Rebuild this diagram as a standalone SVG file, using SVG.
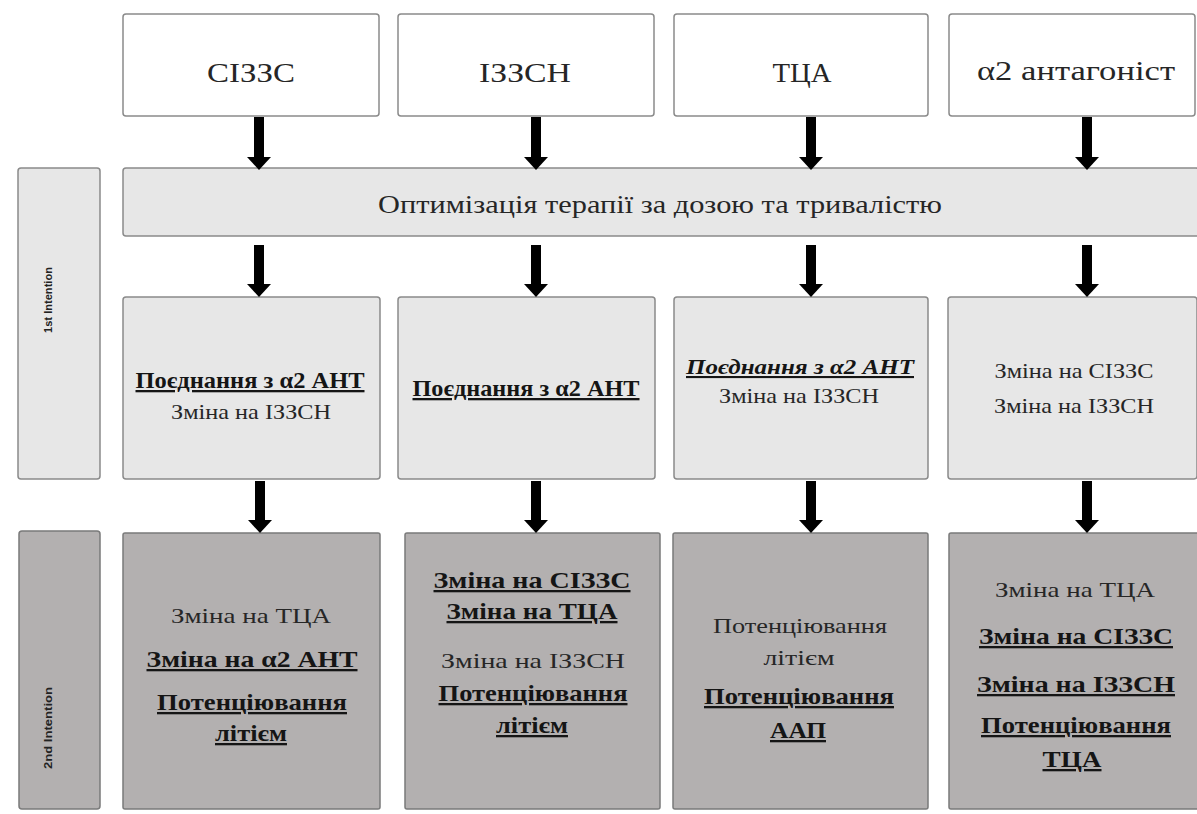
<svg xmlns="http://www.w3.org/2000/svg" width="1197" height="814" viewBox="0 0 1197 814">
<defs>
<style>
.top{fill:#ffffff;stroke:#8a8a8a;stroke-width:1.5}
.lt{fill:#e7e7e7;stroke:#8a8a8a;stroke-width:1.5}
.dk{fill:#b3b0b0;stroke:#7a7a7a;stroke-width:1.5}
text{font-family:"Liberation Serif","Times New Roman",serif;text-anchor:middle;fill:#262626}
.t1{font-size:28px}
.t2{font-size:26px}
.t3{font-size:21px}
.b{font-weight:bold;font-size:23px;text-decoration:underline;fill:#151515}
.bi{font-weight:bold;font-style:italic;text-decoration:underline;fill:#151515}
.side{font-family:"Liberation Sans",Arial,sans-serif;font-size:11px;font-weight:bold;fill:#222}
.arr{stroke:#000;stroke-width:10;fill:none}
</style>
<marker id="ah" viewBox="0 0 13 24" refX="0" refY="12" markerWidth="13" markerHeight="24" markerUnits="userSpaceOnUse" orient="auto">
<path d="M0,0 L13,12 L0,24 z" fill="#000"/>
</marker>
</defs>
<rect width="1197" height="814" fill="#ffffff"/>

<g id="side1">
<rect class="lt" x="18" y="168" width="82" height="311" rx="3"/>
<text class="side" transform="translate(52,300) rotate(-90)" textLength="66" lengthAdjust="spacingAndGlyphs">1st Intention</text>
</g>
<g id="side2">
<rect class="dk" x="19" y="531" width="81" height="278" rx="3"/>
<text class="side" transform="translate(52,728) rotate(-90)" textLength="82" lengthAdjust="spacingAndGlyphs">2nd Intention</text>
</g>

<g id="top1"><rect class="top" x="123" y="14" width="256" height="102" rx="3"/><text class="t1" x="251" y="82" textLength="88" lengthAdjust="spacingAndGlyphs">СІЗЗС</text></g>
<g id="top2"><rect class="top" x="398" y="14" width="256" height="102" rx="3"/><text class="t1" x="525" y="82" textLength="92" lengthAdjust="spacingAndGlyphs">ІЗЗСН</text></g>
<g id="top3"><rect class="top" x="674" y="14" width="254" height="102" rx="3"/><text class="t1" x="802" y="82" textLength="59" lengthAdjust="spacingAndGlyphs">ТЦА</text></g>
<g id="top4"><rect class="top" x="949" y="14" width="246" height="102" rx="3"/><text class="t1" x="1076" y="80" textLength="198" lengthAdjust="spacingAndGlyphs">α2 антагоніст</text></g>

<g id="optimize"><rect class="lt" x="123" y="168" width="1076" height="68" rx="3"/><text class="t2" x="660" y="213" textLength="564" lengthAdjust="spacingAndGlyphs">Оптимізація терапії за дозою та тривалістю</text></g>

<g id="mid1"><rect class="lt" x="123" y="297" width="257" height="182" rx="3"/>
<text class="t3 b" x="250" y="388" textLength="229" lengthAdjust="spacingAndGlyphs">Поєднання з  α2 АНТ</text>
<text class="t3" x="251" y="419" textLength="160" lengthAdjust="spacingAndGlyphs">Зміна на ІЗЗСН</text></g>
<g id="mid2"><rect class="lt" x="398" y="297" width="257" height="182" rx="3"/>
<text class="t3 b" x="526" y="396" textLength="227" lengthAdjust="spacingAndGlyphs">Поєднання з  α2 АНТ</text></g>
<g id="mid3"><rect class="lt" x="674" y="297" width="254" height="182" rx="3"/>
<text class="t3 bi" x="800" y="374" textLength="228" lengthAdjust="spacingAndGlyphs">Поєднання з  α2 АНТ</text>
<text class="t3" x="799" y="403" textLength="160" lengthAdjust="spacingAndGlyphs">Зміна на ІЗЗСН</text></g>
<g id="mid4"><rect class="lt" x="948" y="297" width="249" height="182" rx="3"/>
<text class="t3" x="1074" y="378" textLength="159" lengthAdjust="spacingAndGlyphs">Зміна на СІЗЗС</text>
<text class="t3" x="1074" y="413" textLength="160" lengthAdjust="spacingAndGlyphs">Зміна на ІЗЗСН</text></g>

<g id="bot1"><rect class="dk" x="123" y="533" width="257" height="276" rx="2"/>
<text class="t3" x="251" y="623" textLength="160" lengthAdjust="spacingAndGlyphs">Зміна на ТЦА</text>
<text class="t3 b" x="252" y="667" textLength="211" lengthAdjust="spacingAndGlyphs">Зміна на α2 АНТ</text>
<text class="t3 b" x="252" y="710" textLength="190" lengthAdjust="spacingAndGlyphs">Потенціювання</text>
<text class="t3 b" x="251" y="741" textLength="72" lengthAdjust="spacingAndGlyphs">літієм</text></g>
<g id="bot2"><rect class="dk" x="405" y="533" width="255" height="276" rx="2"/>
<text class="t3 b" x="532" y="588" textLength="197" lengthAdjust="spacingAndGlyphs">Зміна на СІЗЗС</text>
<text class="t3 b" x="532" y="619" textLength="171" lengthAdjust="spacingAndGlyphs">Зміна на ТЦА</text>
<text class="t3" x="533" y="668" textLength="184" lengthAdjust="spacingAndGlyphs">Зміна на ІЗЗСН</text>
<text class="t3 b" x="533" y="701" textLength="189" lengthAdjust="spacingAndGlyphs">Потенціювання</text>
<text class="t3 b" x="532" y="733" textLength="72" lengthAdjust="spacingAndGlyphs">літієм</text></g>
<g id="bot3"><rect class="dk" x="673" y="533" width="255" height="276" rx="2"/>
<text class="t3" x="800" y="633" textLength="174" lengthAdjust="spacingAndGlyphs">Потенціювання</text>
<text class="t3" x="799" y="665" textLength="71" lengthAdjust="spacingAndGlyphs">літієм</text>
<text class="t3 b" x="799" y="704" textLength="190" lengthAdjust="spacingAndGlyphs">Потенціювання</text>
<text class="t3 b" x="798" y="738" textLength="56" lengthAdjust="spacingAndGlyphs">ААП</text></g>
<g id="bot4"><rect class="dk" x="949" y="533" width="250" height="276" rx="2"/>
<text class="t3" x="1075" y="597" textLength="160" lengthAdjust="spacingAndGlyphs">Зміна на ТЦА</text>
<text class="t3 b" x="1076" y="644" textLength="194" lengthAdjust="spacingAndGlyphs">Зміна на СІЗЗС</text>
<text class="t3 b" x="1076" y="692" textLength="198" lengthAdjust="spacingAndGlyphs">Зміна на ІЗЗСН</text>
<text class="t3 b" x="1076" y="733" textLength="190" lengthAdjust="spacingAndGlyphs">Потенціювання</text>
<text class="t3 b" x="1072" y="767" textLength="59" lengthAdjust="spacingAndGlyphs">ТЦА</text></g>

<g id="connectors">
<line class="arr" x1="259" y1="117" x2="259" y2="157" marker-end="url(#ah)"/>
<line class="arr" x1="536" y1="117" x2="536" y2="157" marker-end="url(#ah)"/>
<line class="arr" x1="811" y1="117" x2="811" y2="157" marker-end="url(#ah)"/>
<line class="arr" x1="1087" y1="117" x2="1087" y2="157" marker-end="url(#ah)"/>
<line class="arr" x1="259" y1="245" x2="259" y2="284" marker-end="url(#ah)"/>
<line class="arr" x1="536" y1="245" x2="536" y2="284" marker-end="url(#ah)"/>
<line class="arr" x1="811" y1="245" x2="811" y2="284" marker-end="url(#ah)"/>
<line class="arr" x1="1087" y1="245" x2="1087" y2="284" marker-end="url(#ah)"/>
<line class="arr" x1="260" y1="481" x2="260" y2="520" marker-end="url(#ah)"/>
<line class="arr" x1="536" y1="481" x2="536" y2="520" marker-end="url(#ah)"/>
<line class="arr" x1="811" y1="481" x2="811" y2="520" marker-end="url(#ah)"/>
<line class="arr" x1="1087" y1="481" x2="1087" y2="520" marker-end="url(#ah)"/>
</g>
</svg>
